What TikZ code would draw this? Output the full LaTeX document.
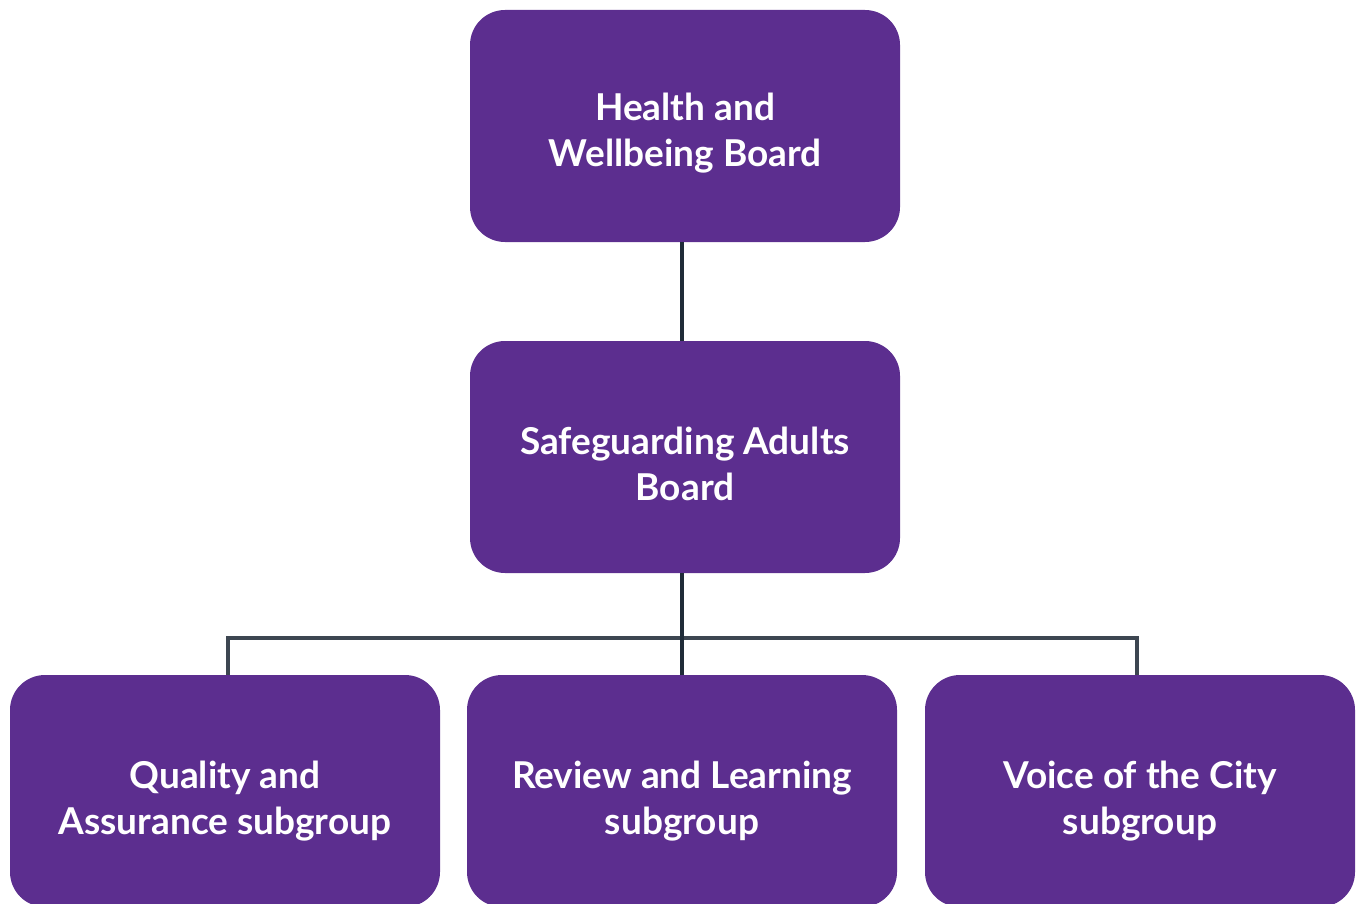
\documentclass[tikz,border=0pt]{standalone}
\usepackage{fontspec}
\setmainfont{Lato}
\definecolor{boxpurple}{HTML}{5C2E8F}
\definecolor{linedark}{HTML}{1F2B38}
\definecolor{linegray}{HTML}{3D4651}
\tikzset{
  orgbox/.style={fill=boxpurple, draw=none, rounded corners=35pt,
    minimum width=430pt, minimum height=232pt, inner sep=0pt},
  boxtext/.style={text=white, align=center, inner sep=0pt,
    font=\fontsize{37}{45.5}\selectfont\bfseries},
  vline/.style={draw=linedark, line width=4.5pt},
  hline/.style={draw=linegray, line width=4.5pt}
}
\begin{document}
\begin{tikzpicture}[x=1pt,y=-1pt]
\useasboundingbox (0,0) rectangle (1356,904);
\node[orgbox] (hwb) at (685,126) {};
\node[orgbox] (sab) at (685,457) {};
\node[orgbox] (qa) at (225,791) {};
\node[orgbox] (rl) at (682,791) {};
\node[orgbox] (voc) at (1140,791) {};
\node[boxtext] (hwbt) at ([yshift=-7pt]hwb.center) {Health and\\Wellbeing Board};
\node[boxtext] (sabt) at ([yshift=-7pt]sab.center) {Safeguarding Adults\\Board};
\node[boxtext] (qat) at ([yshift=-10pt]qa.center) {Quality and\\Assurance subgroup};
\node[boxtext] (rlt) at ([yshift=-10pt]rl.center) {Review and Learning\\subgroup};
\node[boxtext] (voct) at ([yshift=-10pt]voc.center) {Voice of the City\\subgroup};
\coordinate (busL) at (228,638);
\coordinate (busR) at (1137,638);
\draw[hline] (busL |- qa.north) -- (busL) -- (busR) -- (busR |- voc.north);
\draw[vline] ([xshift=-3pt]hwb.south) -- ([xshift=-3pt]sab.north);
\draw[vline] ([xshift=-3pt]sab.south) -- (rl.north);
\end{tikzpicture}
\end{document}
